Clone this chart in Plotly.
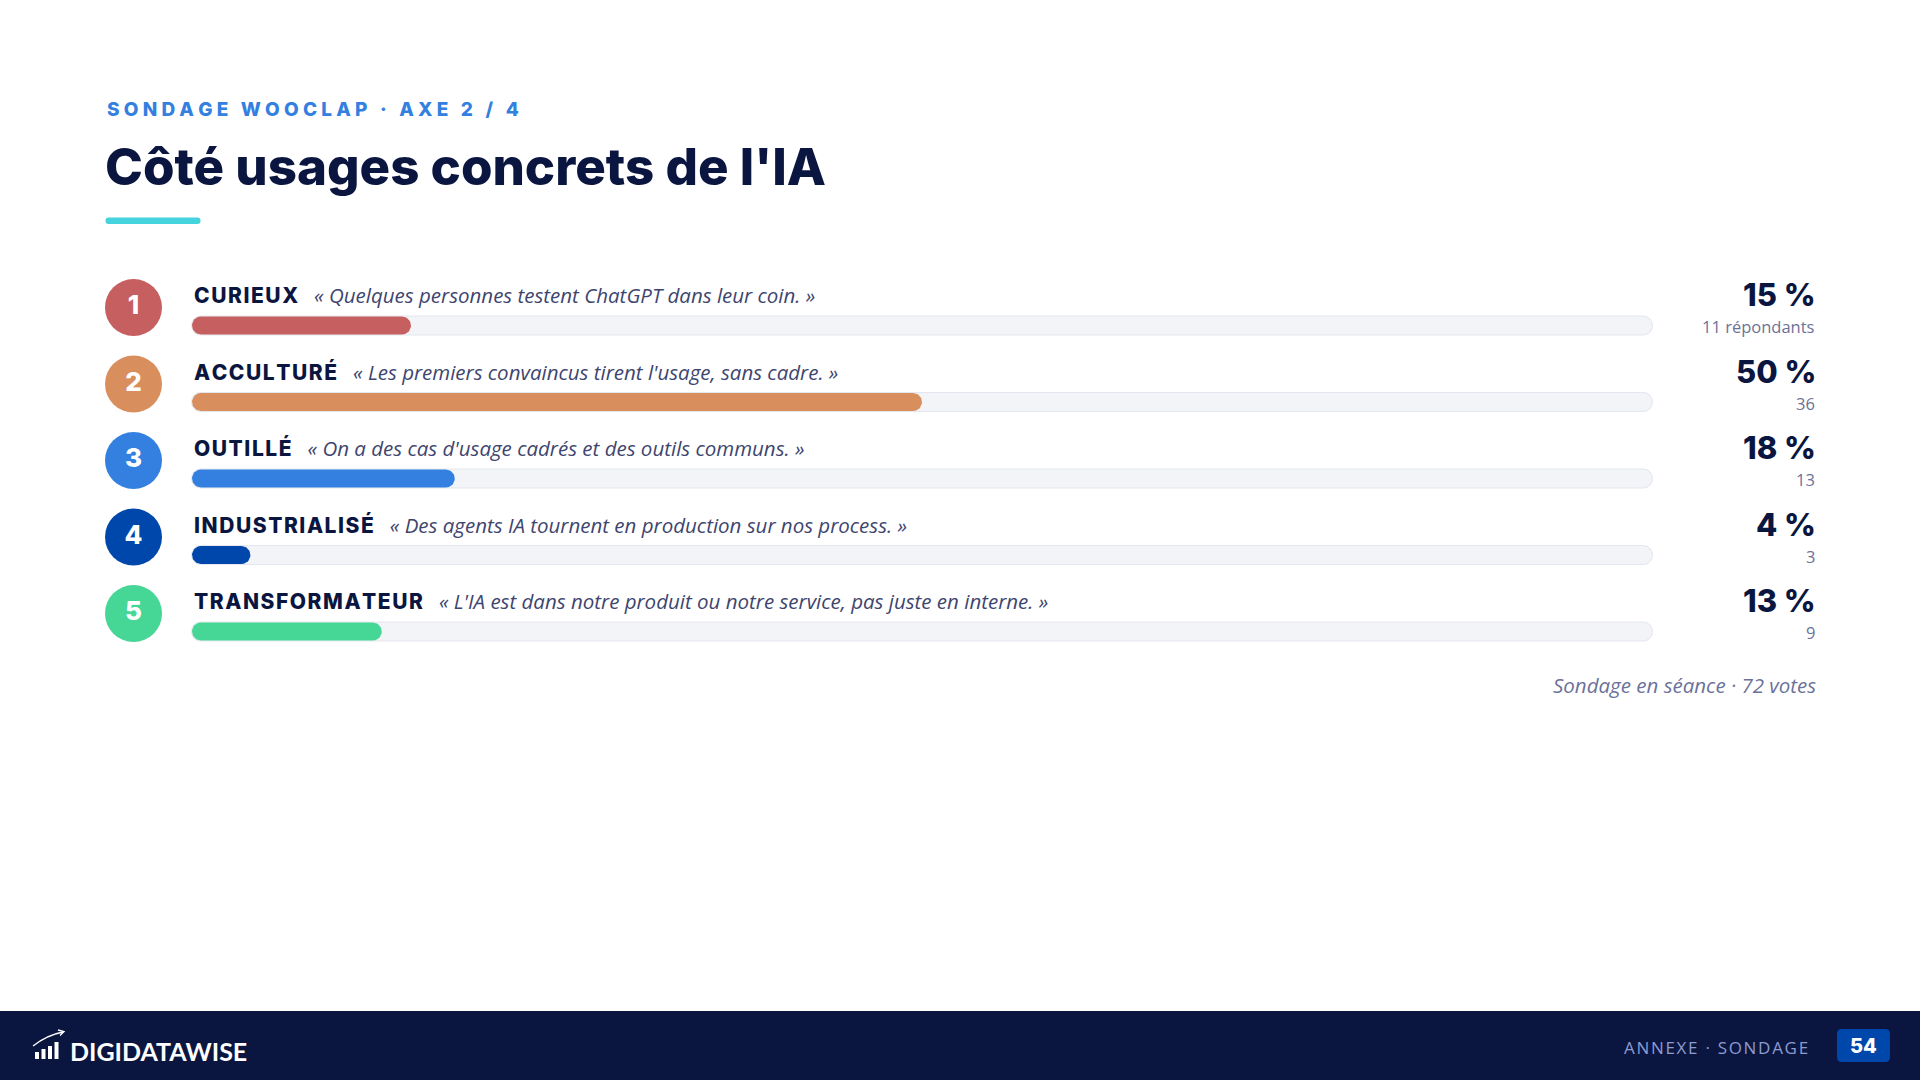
import numpy as np
import plotly.graph_objects as go

# ---------------- data ----------------
categories = ["CURIEUX", "ACCULTURÉ", "OUTILLÉ", "INDUSTRIALISÉ", "TRANSFORMATEUR"]
quotes = [
    "« Quelques personnes testent ChatGPT dans leur coin. »",
    "« Les premiers convaincus tirent l'usage, sans cadre. »",
    "« On a des cas d'usage cadrés et des outils communs. »",
    "« Des agents IA tournent en production sur nos process. »",
    "« L'IA est dans notre produit ou notre service, pas juste en interne. »",
]
percent = [15, 50, 18, 4, 13]
respondents = [11, 36, 13, 3, 9]
ranks = ["1", "2", "3", "4", "5"]
total_votes = 72
colors = ["#C65F5F", "#D98E5E", "#3380E0", "#0047AB", "#46D695"]

# ---------------- layout geometry (pixels) ----------------
W, H = 1920, 1080
TRACK_X0, TRACK_X1 = 192.0, 1652.0
PXU = (TRACK_X1 - TRACK_X0) / 100.0          # pixels per percent unit
ROW0, ROW_STEP = 307.5, 76.5                  # first row centre / row spacing
NAVY = "#0B1640"
MUTED = "#6B7299"


def py(p):  # pixel offset -> row units
    return p / ROW_STEP


def pxu(p):  # pixel length -> percent units
    return p / PXU


rows = list(range(len(categories)))
bar_y = [r + py(18) for r in rows]
x_range = [(0 - TRACK_X0) / PXU, (W - TRACK_X0) / PXU]
y_range = [(H - ROW0) / ROW_STEP, (0 - ROW0) / ROW_STEP]


def pill_path(x_start, x_end, yc, h_px, n=28):
    """Closed pill outline in data coordinates (percent units / row units)."""
    rx, ry = pxu(h_px / 2), py(h_px / 2)
    xl = x_start + rx
    xr = max(x_end - rx, xl)
    t1 = np.linspace(-np.pi / 2, np.pi / 2, n)
    t2 = np.linspace(np.pi / 2, 3 * np.pi / 2, n)
    xs = list(xr + rx * np.cos(t1)) + list(xl + rx * np.cos(t2))
    ys = list(yc + ry * np.sin(t1)) + list(yc + ry * np.sin(t2))
    return xs + [xs[0]], ys + [ys[0]]


def pill_trace(starts, ends, ycs, h_px, color):
    X, Y = [], []
    for s, e, yc in zip(starts, ends, ycs):
        xs, ys = pill_path(s, e, yc, h_px)
        X += xs + [None]
        Y += ys + [None]
    return go.Scatter(x=X, y=Y, mode="lines", fill="toself", fillcolor=color,
                      line=dict(width=0, color=color), hoverinfo="skip", showlegend=False)


fig = go.Figure()
n_rows = len(rows)
# track border + track
fig.add_trace(pill_trace([-pxu(1)] * n_rows, [100 + pxu(1)] * n_rows, bar_y, 20, "#E4E7EF"))
fig.add_trace(pill_trace([0] * n_rows, [100] * n_rows, bar_y, 18, "#F3F4F8"))
# value fills
for i in rows:
    fig.add_trace(pill_trace([0], [percent[i]], [bar_y[i]], 18, colors[i]))

# rank circles
fig.add_trace(go.Scatter(
    x=[(133.5 - TRACK_X0) / PXU] * n_rows, y=rows, mode="markers+text",
    marker=dict(size=57, color=colors, line=dict(width=0)),
    text=ranks, textposition="middle center",
    textfont=dict(family="Inter", size=26, color="white", weight=800),
    hoverinfo="skip", showlegend=False,
))

HS = "\u200a"   # hair space
TS = "\u2009"   # thin space


def spaced(s, sep):
    return sep.join(list(s))


annotations = []
for i, (cat, q, p, n) in enumerate(zip(categories, quotes, percent, respondents)):
    label = (
        f"<span style='font-family:Inter;font-size:21px;font-weight:800;font-style:normal;color:{NAVY}'>"
        f"{spaced(cat, HS)}</span>" + "\u00a0\u00a0\u00a0" + q
    )
    annotations.append(dict(
        x=0, y=i - py(12.5), xref="x", yref="y", xanchor="left", yanchor="middle",
        text=label, showarrow=False,
        font=dict(family="Open Sans", size=20.5, color="#3E456E", style="italic"),
    ))
    annotations.append(dict(
        x=1818 / W, y=i - py(13), xref="paper", yref="y", xanchor="right", yanchor="middle",
        text=f"{p}\u00a0%", showarrow=False,
        font=dict(family="Inter", size=31, color=NAVY, weight=800),
    ))
    annotations.append(dict(
        x=1817 / W, y=i + py(19), xref="paper", yref="y", xanchor="right", yanchor="middle",
        text=(f"{n} répondants" if i == 0 else f"{n}"), showarrow=False,
        font=dict(family="Open Sans", size=16.5, color=MUTED),
    ))

# header / footer texts on pixel axes x2/y2
annotations += [
    dict(x=105, y=109.5, xref="x2", yref="y2", xanchor="left", yanchor="middle",
         text=spaced("SONDAGE WOOCLAP · AXE 2 / 4", TS + HS), showarrow=False,
         font=dict(family="Inter", size=19, color="#3380E0", weight=800)),
    dict(x=103, y=166, xref="x2", yref="y2", xanchor="left", yanchor="middle",
         text="Côté usages concrets de l'IA", showarrow=False,
         font=dict(family="Inter", size=51, color=NAVY, weight=800)),
    dict(x=1818, y=684.5, xref="x2", yref="y2", xanchor="right", yanchor="middle",
         text=f"Sondage en séance · {total_votes} votes", showarrow=False,
         font=dict(family="Open Sans", size=20.5, color=MUTED, style="italic")),
    dict(x=68, y=1050.5, xref="x2", yref="y2", xanchor="left", yanchor="middle",
         text="DIGIDATAWISE", showarrow=False,
         font=dict(family="Lato", size=25, color="white", weight=700)),
    dict(x=1810, y=1047, xref="x2", yref="y2", xanchor="right", yanchor="middle",
         text=spaced("ANNEXE · SONDAGE", HS), showarrow=False,
         font=dict(family="Open Sans", size=17, color="#8C9BD0")),
    dict(x=1863.5, y=1045.5, xref="x2", yref="y2", xanchor="center", yanchor="middle",
         text="54", showarrow=False,
         font=dict(family="Inter", size=20, color="white", weight=800)),
]


def rrect(x0, y0, x1, y1, r):
    return (f"M {x0 + r},{y0} L {x1 - r},{y0} Q {x1},{y0} {x1},{y0 + r} "
            f"L {x1},{y1 - r} Q {x1},{y1} {x1 - r},{y1} L {x0 + r},{y1} "
            f"Q {x0},{y1} {x0},{y1 - r} L {x0},{y0 + r} Q {x0},{y0} {x0 + r},{y0} Z")


shapes = [
    dict(type="path", xref="x2", yref="y2", path=rrect(105.5, 217.5, 200.5, 224, 3),
         fillcolor="#45D3DD", line=dict(width=0), layer="above"),
    dict(type="rect", xref="x2", yref="y2", x0=0, x1=W, y0=1011, y1=H,
         fillcolor=NAVY, line=dict(width=0), layer="below"),
    dict(type="path", xref="x2", yref="y2", path=rrect(1837, 1029, 1890, 1062, 5),
         fillcolor="#0047AB", line=dict(width=0), layer="above"),
]
# logo icon: small bars + arrow
for k, hgt in enumerate([7, 10, 13, 17]):
    bx = 35 + k * 6.5
    shapes.append(dict(type="rect", xref="x2", yref="y2", x0=bx, x1=bx + 4,
                       y0=1059 - hgt, y1=1059, fillcolor="white", line=dict(width=0), layer="above"))
shapes.append(dict(type="path", xref="x2", yref="y2", path="M 33,1046 Q 47,1035 63,1032",
                   line=dict(color="white", width=1.3), layer="above"))
shapes.append(dict(type="path", xref="x2", yref="y2", path="M 58,1030 L 64,1031.5 L 60,1035.5",
                   line=dict(color="white", width=1.3), layer="above"))

fig.update_layout(
    width=W, height=H, margin=dict(l=0, r=0, t=0, b=0),
    paper_bgcolor="white", plot_bgcolor="rgba(0,0,0,0)",
    showlegend=False,
    xaxis=dict(range=x_range, visible=False, fixedrange=True),
    yaxis=dict(range=y_range, visible=False, fixedrange=True),
    xaxis2=dict(range=[0, W], visible=False, overlaying="x", fixedrange=True),
    yaxis2=dict(range=[H, 0], visible=False, overlaying="y", fixedrange=True),
    annotations=annotations, shapes=shapes,
)

fig.write_html(
    "out.html",
    config=dict(displayModeBar=False),
    post_script="document.body.style.margin='0';document.body.style.overflow='hidden';",
)
